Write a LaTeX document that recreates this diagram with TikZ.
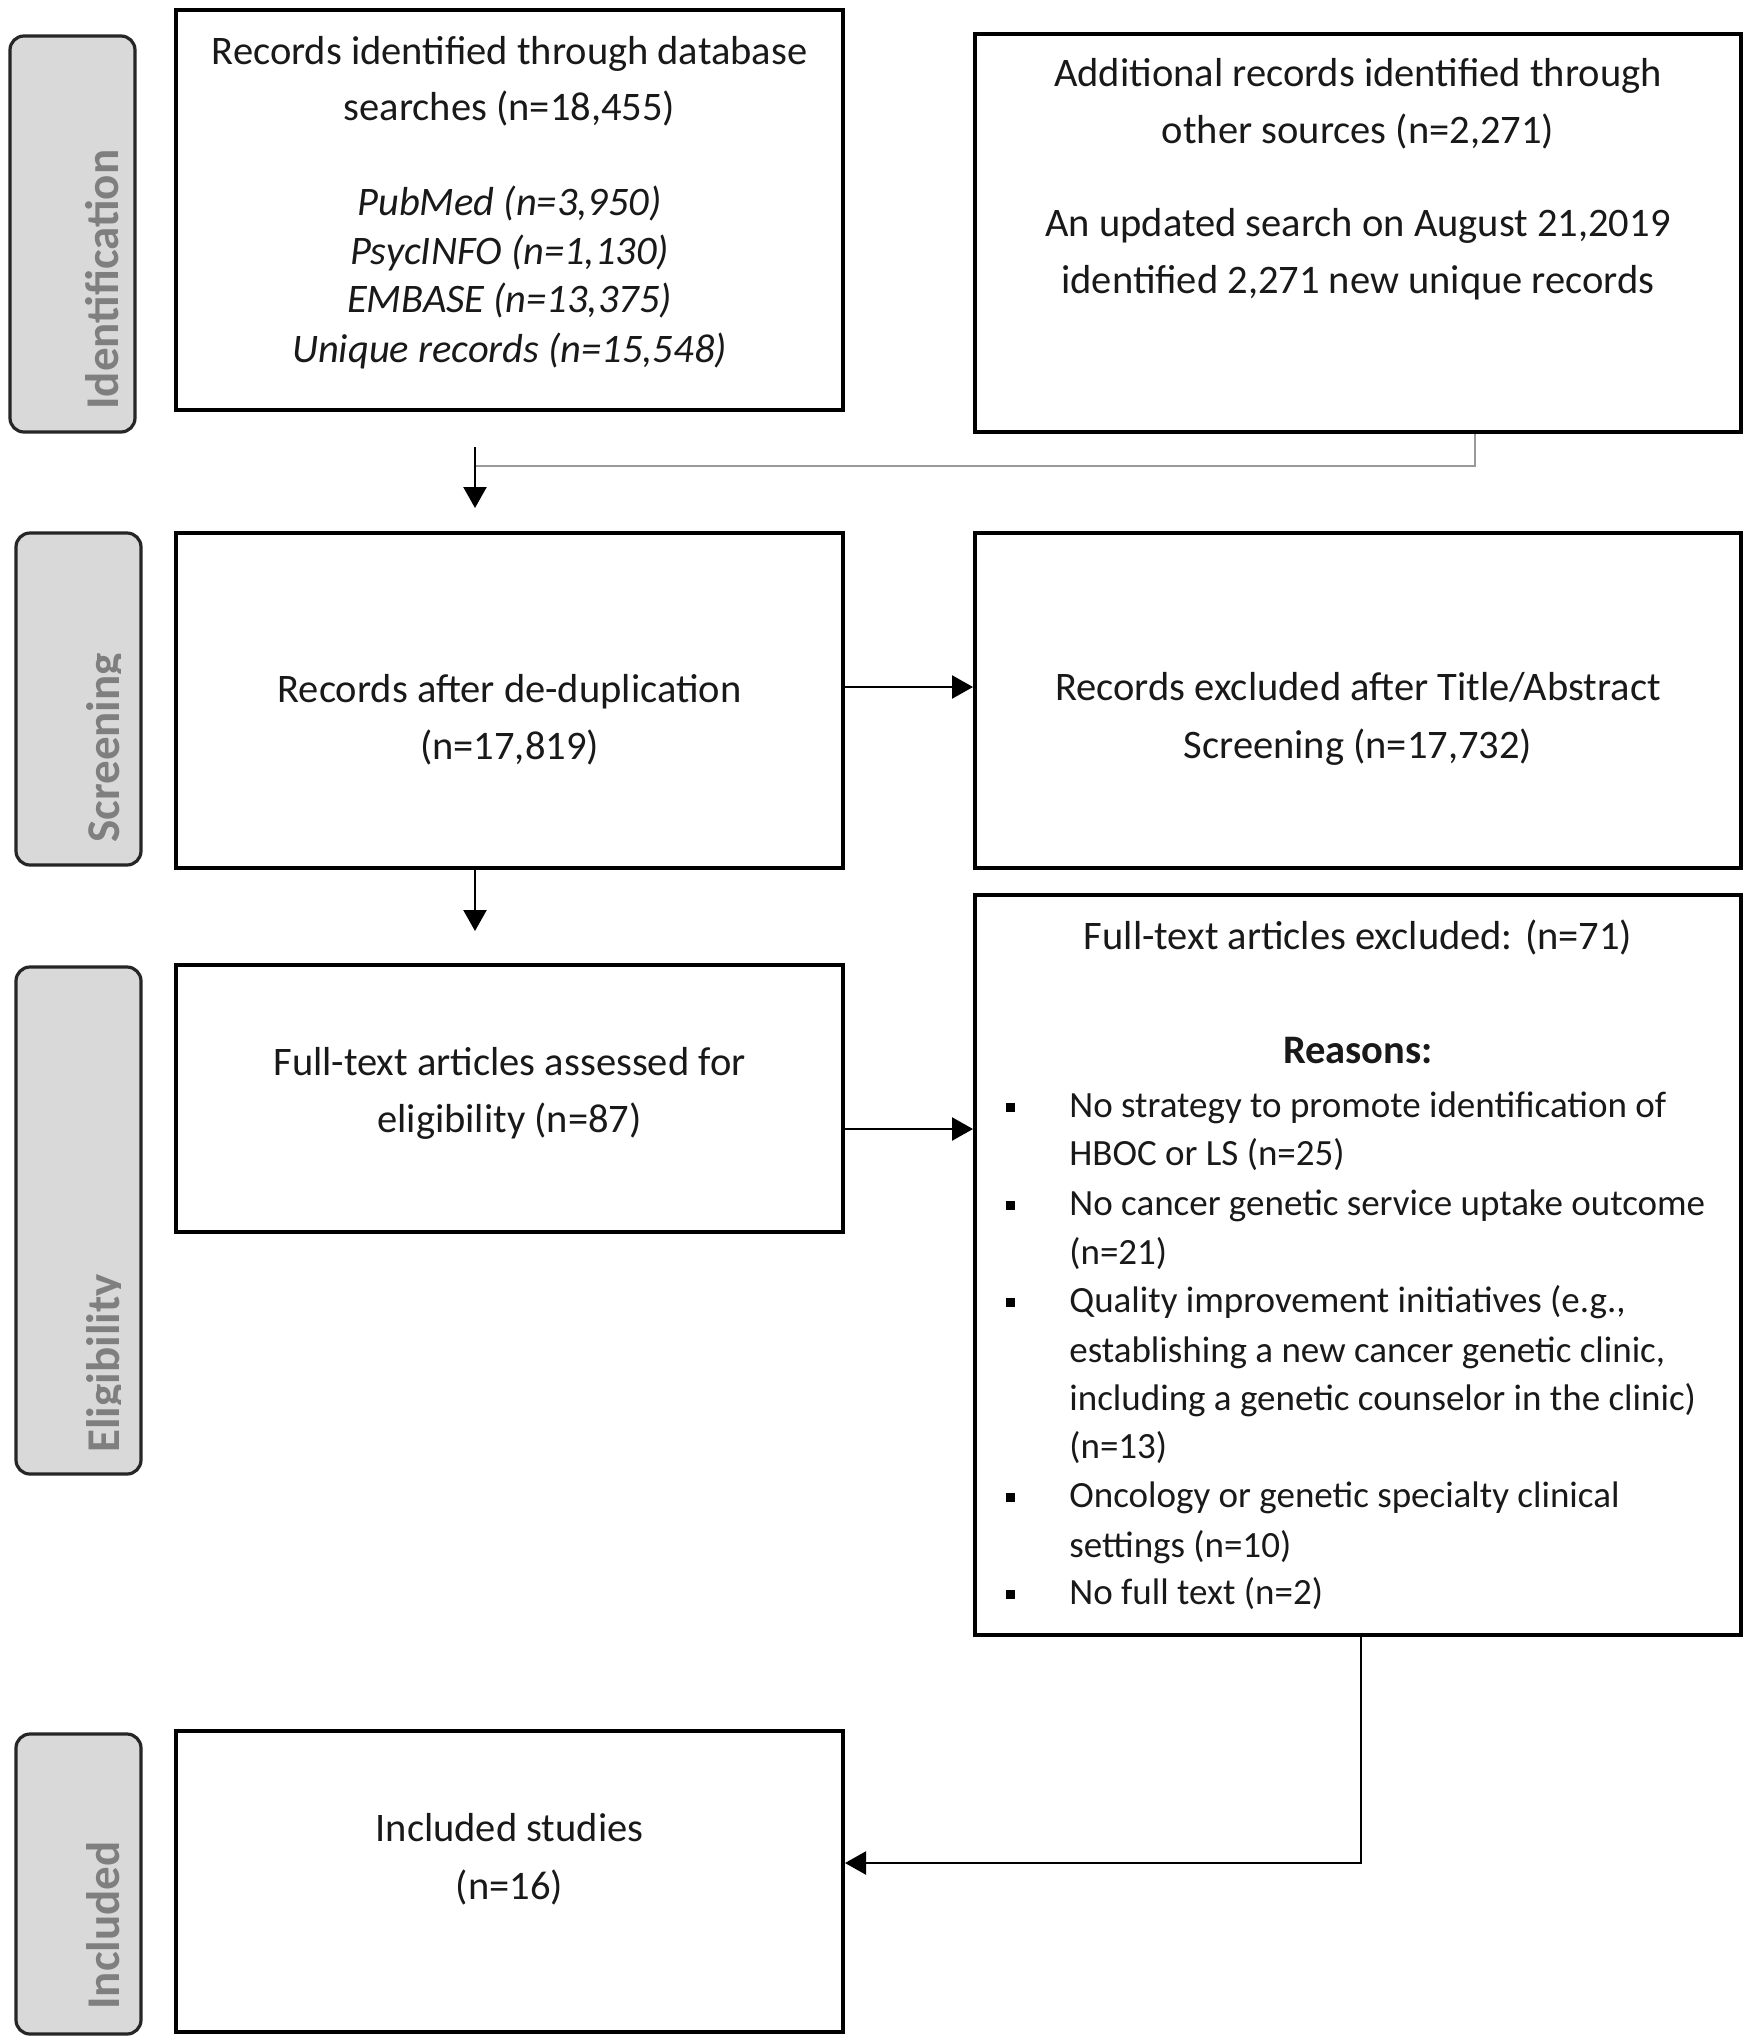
\documentclass[tikz,border=0pt]{standalone}
\usepackage{fontspec}
\setmainfont{Carlito}
\usetikzlibrary{arrows.meta}
\definecolor{sidefill}{HTML}{D9D9D9}
\definecolor{sidetext}{HTML}{7F7F7F}
\definecolor{conngray}{HTML}{9A9A9A}
\begin{document}
\begin{tikzpicture}[x=0.5pt,y=-0.5pt,
  box/.style={draw=black, line width=2pt, fill=white, inner sep=0pt},
  side/.style={draw=black!85, line width=1.6pt, fill=sidefill, rounded corners=7pt, minimum width=62.5pt, inner sep=0pt},
  sidelabel/.style={inner sep=0pt, rotate=90, anchor=base west, text=sidetext, font=\fontsize{23.5pt}{28pt}\selectfont\bfseries},
  txt/.style={inner sep=0pt, anchor=base, text=black!90, font=\fontsize{20.25pt}{24pt}\selectfont},
  itxt/.style={txt, font=\fontsize{20.25pt}{24pt}\selectfont\itshape},
  btxt/.style={inner sep=0pt, anchor=base west, text=black!90, font=\fontsize{18.5pt}{22pt}\selectfont},
  bullet/.style={fill=black, inner sep=0pt, minimum size=4.5pt},
  arr/.style={line width=1.2pt, -{Triangle[length=10.5pt,width=11.5pt]}},
  conn/.style={line width=1pt, draw=conngray}]
\useasboundingbox (0,0) rectangle (1750,2040);
\fill[white] (0,0) rectangle (1750,2040);

% side boxes
\node[side, minimum height=198pt] (S1) at (72.5,234) {};
\node[side, minimum height=166pt] (S2) at (78.5,699) {};
\node[side, minimum height=253.5pt] (S3) at (78.5,1220.5) {};
\node[side, minimum height=150pt] (S4) at (78.5,1884) {};
\begin{scope}
  \clip (0,0) rectangle (120.5,2040);
  \node[sidelabel] (L1) at (118,410) {Identification};
  \node[sidelabel] (L2) at (119,843) {Screening};
  \node[sidelabel] (L3) at (119,1453) {Eligibility};
  \node[sidelabel] (L4) at (119,2010) {Included};
\end{scope}

% main boxes
\node[box, minimum width=333.5pt, minimum height=200pt] (A) at (509.5,210) {};
\node[box, minimum width=383pt, minimum height=199pt] (B) at (1358,233) {};
\node[box, minimum width=333.5pt, minimum height=167.5pt] (C) at (509.5,700.5) {};
\node[box, minimum width=383pt, minimum height=167.5pt] (D) at (1358,700.5) {};
\node[box, minimum width=333.5pt, minimum height=133.5pt] (E) at (509.5,1098.5) {};
\node[box, minimum width=383pt, minimum height=370pt] (F) at (1358,1265) {};
\node[box, minimum width=333.5pt, minimum height=150.5pt] (G) at (509.5,1881.5) {};

% texts box A
\node[txt] (A1) at (509.5,64) {Records identified through database};
\node[txt] (A2) at (509.5,120) {searches (n=18,455)};
\node[itxt] (A3) at (509.5,215) {PubMed (n=3,950)};
\node[itxt] (A4) at (509.5,264) {PsycINFO (n=1,130)};
\node[itxt] (A5) at (509.5,312) {EMBASE (n=13,375)};
\node[itxt] (A6) at (509.5,362) {Unique records (n=15,548)};
% box B
\node[txt] (B1) at (1358,86) {Additional records identified through};
\node[txt] (B2) at (1358,143) {other sources (n=2,271)};
\node[txt] (B3) at (1358,236) {An updated search on August 21,2019};
\node[txt] (B4) at (1358,293) {identified 2,271 new unique records};
% box C
\node[txt] (C1) at (509.5,702) {Records after de-duplication};
\node[txt] (C2) at (509.5,759) {(n=17,819)};
% box D
\node[txt] (D1) at (1358,700) {Records excluded after Title/Abstract};
\node[txt] (D2) at (1358,758) {Screening (n=17,732)};
% box E
\node[txt] (E1) at (509.5,1075) {Full-text articles assessed for};
\node[txt] (E2) at (509.5,1132) {eligibility (n=87)};
% box F
\node[txt] (F0) at (1358,949) {Full-text articles excluded: (n=71)};
\node[txt, font=\fontsize{20.25pt}{24pt}\selectfont\bfseries] (FR) at (1358,1063) {Reasons:};
\node[btxt] (F1) at (1069,1117) {No strategy to promote identification of};
\node[btxt] (F2) at (1069,1165) {HBOC or LS (n=25)};
\node[btxt] (F3) at (1069,1215) {No cancer genetic service uptake outcome};
\node[btxt] (F4) at (1069,1264) {(n=21)};
\node[btxt] (F5) at (1069,1312) {Quality improvement initiatives (e.g.,};
\node[btxt] (F6) at (1069,1362) {establishing a new cancer genetic clinic,};
\node[btxt] (F7) at (1069,1410) {including a genetic counselor in the clinic)};
\node[btxt] (F8) at (1069,1458) {(n=13)};
\node[btxt] (F9) at (1069,1507) {Oncology or genetic specialty clinical};
\node[btxt] (F10) at (1069,1557) {settings (n=10)};
\node[btxt] (F11) at (1069,1604) {No full text (n=2)};
\node[bullet] (P1) at (1010,1107) {};
\node[bullet] (P2) at (1010,1205) {};
\node[bullet] (P3) at (1010,1302) {};
\node[bullet] (P4) at (1010,1497) {};
\node[bullet] (P5) at (1010,1594) {};
% box G
\node[txt] (G1) at (509.5,1841) {Included studies};
\node[txt] (G2) at (509.5,1899) {(n=16)};

% connectors
\coordinate (xm) at (475,0);
\coordinate (jn) at (475,466);
\coordinate (bx) at (1475,466);
\coordinate (ycd) at (900,687);
\coordinate (yef) at (900,1129);
\coordinate (xfg) at (1361,1863);
\draw[conn] (B.south -| bx) -- (bx) -- (jn);
\draw[arr, shorten <=17.5pt, shorten >=11.5pt] (A.south -| xm) -- (C.north -| xm);
\draw[arr] (C.east |- ycd) -- (D.west |- ycd);
\draw[arr, shorten >=16pt] (C.south -| xm) -- (E.north -| xm);
\draw[arr] (E.east |- yef) -- (F.west |- yef);
\draw[arr] (F.south -| xfg) -- (xfg) -- (G.east |- xfg);
\end{tikzpicture}
\end{document}
